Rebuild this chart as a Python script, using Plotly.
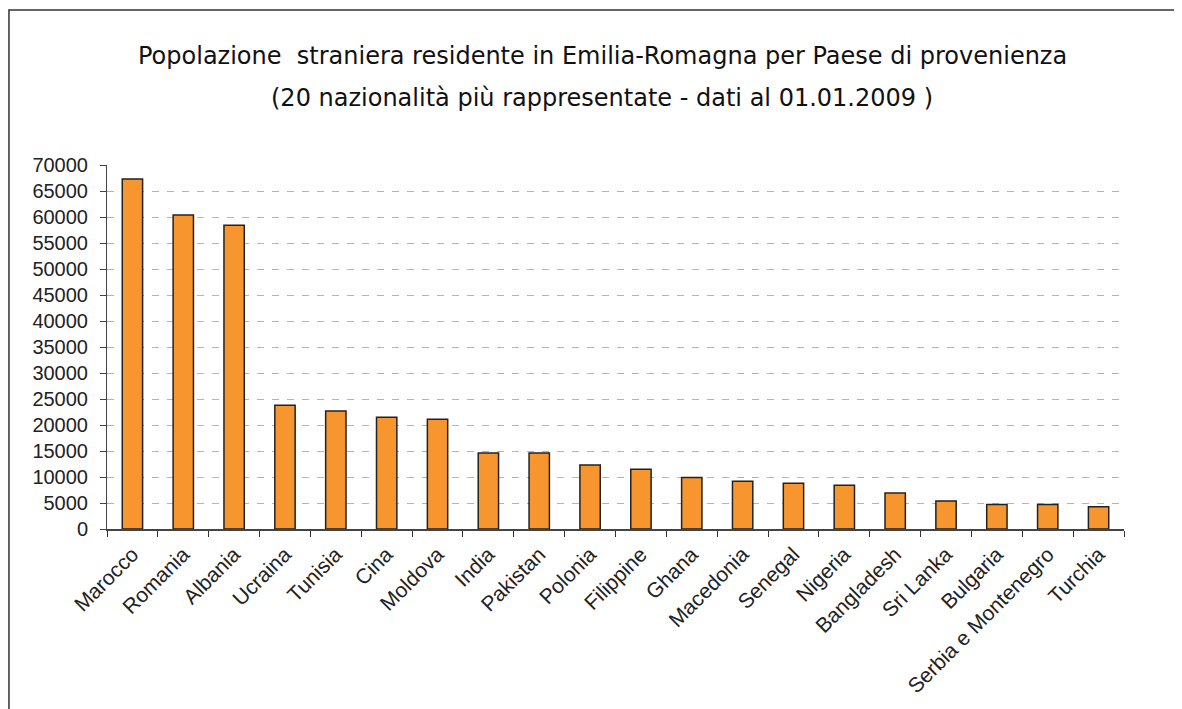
import plotly.graph_objects as go

# data
paesi = ["Marocco", "Romania", "Albania", "Ucraina", "Tunisia", "Cina", "Moldova",
         "India", "Pakistan", "Polonia", "Filippine", "Ghana", "Macedonia", "Senegal",
         "Nigeria", "Bangladesh", "Sri Lanka", "Bulgaria", "Serbia e Montenegro", "Turchia"]
residenti = [67300, 60400, 58400, 23800, 22700, 21500, 21100,
             14600, 14600, 12300, 11500, 9900, 9200, 8800,
             8400, 6900, 5400, 4700, 4700, 4300]
y_ticks = list(range(0, 70001, 5000))

title_1 = "Popolazione  straniera residente in Emilia-Romagna per Paese di provenienza"
title_2 = "(20 nazionalità più rappresentate - dati al 01.01.2009 )"

fig = go.Figure()
fig.add_trace(go.Bar(
    x=paesi, y=residenti,
    marker=dict(color="#F7962F", line=dict(color="#222222", width=1.5)),
    width=0.4,
))

# title in two lines
title_font = dict(family="DejaVu Sans", size=24, color="#111111")
fig.add_annotation(text=title_1, xref="paper", yref="paper", x=0.487, y=1.30,
                   showarrow=False, font=title_font, xanchor="center", yanchor="middle")
fig.add_annotation(text=title_2, xref="paper", yref="paper", x=0.487, y=1.183,
                   showarrow=False, font=title_font, xanchor="center", yanchor="middle")

# outer frame of the chart
fig.add_shape(type="rect", xref="paper", yref="paper",
              x0=-0.0964, x1=1.0551, y0=-0.55, y1=1.4258,
              line=dict(color="#333333", width=1.5))

fig.update_layout(
    width=1174, height=701,
    margin=dict(l=99, r=58, t=157, b=180),
    paper_bgcolor="white", plot_bgcolor="white",
    showlegend=False,
    font=dict(family="Liberation Sans, Arial", size=20, color="#222222"),
)
fig.update_xaxes(
    tickangle=-45, tickson="boundaries", ticks="outside", ticklen=6,
    tickcolor="#333333", showline=True, linecolor="#444444", linewidth=1.5,
    showgrid=False, tickfont=dict(size=21), ticklabelstandoff=3, automargin=False,
)
fig.update_yaxes(
    range=[0, 70000], tickvals=y_ticks, tickformat="d", ticks="outside", ticklen=6,
    tickcolor="#444444", showline=True, linecolor="#444444", linewidth=1,
    showgrid=True, gridcolor="#b4b4b4", gridwidth=1, griddash="7px,8px",
    zeroline=False, ticklabelstandoff=8, tickfont=dict(size=20), automargin=False,
)

fig.write_html("out.html")
